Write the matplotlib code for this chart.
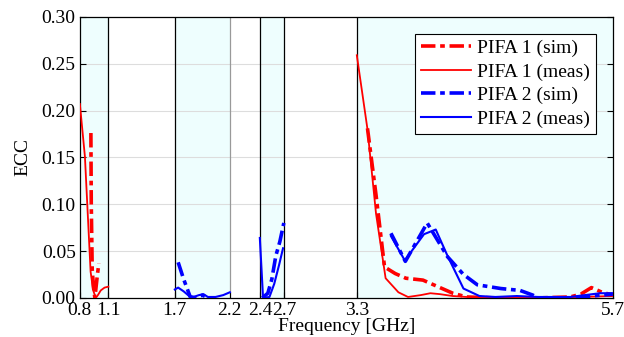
import numpy as np
import matplotlib
matplotlib.use("Agg")
import matplotlib.pyplot as plt

plt.rcParams['font.family'] = ['Liberation Serif', 'DejaVu Serif']

# Frequency bands (GHz) that are shaded
bands = [(0.8, 1.1), (1.7, 2.2), (2.4, 2.7), (3.3, 5.7)]
edges = [1.1, 1.7, 2.2, 2.4, 2.7, 3.3]
edge_colors = ['black', 'black', '#999999', 'black', 'black', 'black']

xticks = [0.8, 1.1, 1.7, 2.2, 2.4, 2.7, 3.3, 5.7]
# the axis in the source is stretched unevenly between ticks
xtick_pos = [0.0, 28.5, 95.0, 150.0, 180.0, 204.0, 277.0, 533.0]
yticks = [0.00, 0.05, 0.10, 0.15, 0.20, 0.25, 0.30]

# PIFA 1 (sim) - one segment per band
p1_sim_f = [
    [0.916, 0.920, 0.930, 0.945, 0.958, 0.985, 1.000],
    [3.40, 3.48, 3.56, 3.66, 3.76, 3.92, 4.06, 4.20, 4.33, 4.60, 5.00, 5.30, 5.40, 5.50, 5.60, 5.70],
]
p1_sim_v = [
    [0.176, 0.100, 0.030, 0.010, 0.000, 0.025, 0.037],
    [0.181, 0.110, 0.033, 0.026, 0.021, 0.019, 0.012, 0.005, 0.001, 0.000, 0.000, 0.001, 0.004, 0.011, 0.006, 0.003],
]

# PIFA 1 (meas)
p1_meas_f = [
    [0.80, 0.853, 0.913, 0.94, 0.968, 0.99, 1.02, 1.06, 1.10],
    [3.30, 3.40, 3.48, 3.57, 3.69, 3.78, 3.90, 3.99, 4.08, 4.20, 4.33, 4.60, 5.00, 5.40, 5.70],
]
p1_meas_v = [
    [0.207, 0.151, 0.028, 0.008, 0.000, 0.003, 0.008, 0.011, 0.012],
    [0.259, 0.180, 0.090, 0.021, 0.006, 0.001, 0.003, 0.005, 0.004, 0.002, 0.001, 0.000, 0.000, 0.001, 0.002],
]

# PIFA 2 (sim)
p2_sim_f = [
    [1.73, 1.78, 1.84, 1.90, 1.95, 2.00],
    [2.43, 2.50, 2.55, 2.60, 2.65, 2.70],
    [3.62, 3.755, 3.96, 4.15, 4.30, 4.43, 4.65, 4.83, 4.95, 5.00, 5.30, 5.50, 5.70],
]
p2_sim_v = [
    [0.038, 0.020, 0.001, 0.000, 0.003, 0.000],
    [0.000, 0.005, 0.020, 0.045, 0.060, 0.080],
    [0.069, 0.039, 0.080, 0.044, 0.025, 0.014, 0.010, 0.008, 0.003, 0.000, 0.000, 0.002, 0.004],
]

# PIFA 2 (meas)
p2_meas_f = [
    [1.70, 1.73, 1.78, 1.83, 1.87, 1.92, 1.96, 2.00, 2.07, 2.14, 2.20],
    [2.40, 2.44, 2.52, 2.58, 2.64, 2.69],
    [3.62, 3.75, 3.93, 4.04, 4.15, 4.30, 4.45, 4.60, 4.80, 5.00, 5.30, 5.58, 5.70],
]
p2_meas_v = [
    [0.009, 0.011, 0.007, 0.002, 0.001, 0.003, 0.004, 0.001, 0.001, 0.003, 0.006],
    [0.064, 0.000, 0.001, 0.015, 0.035, 0.053],
    [0.066, 0.040, 0.068, 0.073, 0.045, 0.010, 0.002, 0.001, 0.002, 0.001, 0.001, 0.005, 0.005],
]

series = [
    ('PIFA 1 (sim)', p1_sim_f, p1_sim_v, 'red', 2.6, 'dashdot'),
    ('PIFA 1 (meas)', p1_meas_f, p1_meas_v, 'red', 1.3, 'solid'),
    ('PIFA 2 (sim)', p2_sim_f, p2_sim_v, 'blue', 2.6, 'dashdot'),
    ('PIFA 2 (meas)', p2_meas_f, p2_meas_v, 'blue', 1.5, 'solid'),
]


def fwd(f):
    return np.interp(f, xticks, xtick_pos)


def inv(p):
    return np.interp(p, xtick_pos, xticks)


fig = plt.figure(figsize=(6.24, 3.37), dpi=100)
ax = fig.add_axes([0.128, 0.116, 0.854, 0.834])
ax.set_xscale('function', functions=(fwd, inv))

# shaded bands
for lo, hi in bands:
    ax.axvspan(lo, hi, color='#eefefe', zorder=0, lw=0)
for x, c in zip(edges, edge_colors):
    ax.axvline(x, color=c, lw=0.9, zorder=1)

for y in yticks[1:-1]:
    ax.axhline(y, color='#dddddd', lw=0.8, zorder=0.5)

for label, fs, vs, color, lw, ls in series:
    for i, (f, v) in enumerate(zip(fs, vs)):
        line, = ax.plot(f, v, color=color, lw=lw, zorder=3,
                        label=label if i == 0 else None)
        if ls == 'dashdot':
            line.set_dashes([4.0, 1.3, 1.3, 1.3])

ax.set_xlim(0.8, 5.7)
ax.set_ylim(0, 0.30)
ax.set_xticks(xticks)
ax.set_xticklabels([f"{t:g}" for t in xticks])
ax.xaxis.set_minor_locator(matplotlib.ticker.NullLocator())
ax.set_yticks(yticks)
ax.set_yticklabels([f"{t:.2f}" for t in yticks])
ax.tick_params(direction='in', top=False, right=True, labelsize=14, length=4, pad=3)

ax.set_xlabel("Frequency [GHz]", fontsize=14, labelpad=-1)
ax.set_ylabel("ECC", fontsize=14, labelpad=7)

for s in ax.spines.values():
    s.set_linewidth(0.9)

leg = ax.legend(loc='upper right', bbox_to_anchor=(0.968, 0.94), fontsize=14,
                frameon=True, fancybox=False, edgecolor='black',
                handlelength=2.6, handletextpad=0.3, borderpad=0.3,
                labelspacing=0.3, borderaxespad=0.0)
leg.get_frame().set_linewidth(0.8)
leg.get_frame().set_facecolor('white')
leg.get_frame().set_alpha(1)

fig.savefig("out.png", dpi=100)
